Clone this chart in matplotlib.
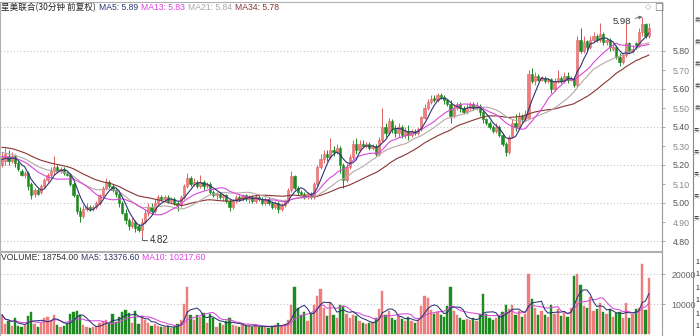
import matplotlib
matplotlib.use("Agg")
import matplotlib.pyplot as plt
import numpy as np
import pandas as pd

plt.rcParams['font.family'] = ['Liberation Sans', 'Noto Sans CJK SC', 'DejaVu Sans']

# 30分钟K线 (开, 高, 低, 收)
opens = [
    5.20, 5.22, 5.25, 5.22, 5.25, 5.21, 5.17, 5.15, 5.16, 5.10,
    5.05, 5.07, 5.06, 5.09, 5.12, 5.15, 5.17, 5.19, 5.17, 5.18,
    5.16, 5.15, 5.10, 5.04, 4.96, 4.93, 4.97, 4.98, 4.97, 4.98,
    5.00, 5.04, 5.08, 5.11, 5.09, 5.07, 5.05, 5.00, 4.95, 4.91,
    4.88, 4.90, 4.88, 4.86, 4.90, 4.95, 4.98, 4.96, 5.00, 5.03,
    5.02, 5.03, 5.01, 5.02, 5.00, 4.99, 5.03, 5.09, 5.13, 5.10,
    5.11, 5.09, 5.11, 5.09, 5.10, 5.06, 5.04, 5.05, 5.03, 5.04,
    5.01, 4.98, 5.01, 5.03, 5.02, 5.04, 5.02, 5.03, 5.01, 5.03,
    5.02, 5.00, 5.02, 5.00, 4.98, 5.00, 4.97, 4.99, 5.01, 5.07,
    5.14, 5.08, 5.06, 5.05, 5.03, 5.05, 5.03, 5.10, 5.19, 5.23,
    5.26, 5.24, 5.28, 5.27, 5.29, 5.20, 5.12, 5.19, 5.24, 5.31,
    5.28, 5.31, 5.30, 5.31, 5.29, 5.30, 5.26, 5.33, 5.40, 5.37,
    5.43, 5.39, 5.37, 5.40, 5.36, 5.38, 5.36, 5.38, 5.37, 5.39,
    5.45, 5.50, 5.53, 5.55, 5.54, 5.57, 5.56, 5.54, 5.52, 5.46,
    5.50, 5.52, 5.50, 5.48, 5.50, 5.52, 5.50, 5.51, 5.48, 5.44,
    5.42, 5.40, 5.38, 5.40, 5.36, 5.31, 5.27, 5.35, 5.42, 5.40,
    5.46, 5.44, 5.45, 5.68, 5.64, 5.67, 5.65, 5.66, 5.64, 5.65,
    5.60, 5.64, 5.66, 5.64, 5.67, 5.65, 5.66, 5.62, 5.86, 5.80,
    5.85, 5.82, 5.86, 5.88, 5.86, 5.89, 5.85, 5.86, 5.81, 5.82,
    5.77, 5.74, 5.78, 5.84, 5.80, 5.84, 5.83, 5.90, 5.94, 5.88,
]
highs = [
    5.27, 5.29, 5.28, 5.27, 5.26, 5.22, 5.18, 5.17, 5.17, 5.11,
    5.08, 5.08, 5.10, 5.13, 5.16, 5.19, 5.25, 5.20, 5.19, 5.19,
    5.17, 5.16, 5.11, 5.05, 4.98, 4.99, 5.00, 4.99, 4.99, 5.01,
    5.05, 5.09, 5.13, 5.12, 5.10, 5.08, 5.06, 5.01, 4.97, 4.92,
    4.92, 4.91, 4.89, 4.92, 4.97, 5.00, 5.00, 5.02, 5.04, 5.04,
    5.04, 5.04, 5.03, 5.03, 5.01, 5.04, 5.10, 5.16, 5.14, 5.13,
    5.12, 5.15, 5.12, 5.11, 5.11, 5.07, 5.06, 5.06, 5.05, 5.05,
    5.02, 5.02, 5.04, 5.04, 5.05, 5.05, 5.04, 5.04, 5.05, 5.04,
    5.03, 5.03, 5.03, 5.01, 5.01, 5.01, 5.00, 5.02, 5.08, 5.17,
    5.15, 5.09, 5.07, 5.06, 5.06, 5.06, 5.11, 5.20, 5.26, 5.28,
    5.28, 5.34, 5.30, 5.31, 5.30, 5.21, 5.21, 5.26, 5.33, 5.34,
    5.33, 5.33, 5.32, 5.32, 5.31, 5.31, 5.35, 5.50, 5.42, 5.45,
    5.44, 5.41, 5.42, 5.41, 5.40, 5.41, 5.39, 5.39, 5.40, 5.46,
    5.52, 5.55, 5.57, 5.57, 5.58, 5.58, 5.57, 5.55, 5.54, 5.52,
    5.53, 5.53, 5.51, 5.52, 5.53, 5.53, 5.53, 5.52, 5.49, 5.45,
    5.43, 5.41, 5.42, 5.41, 5.37, 5.32, 5.36, 5.44, 5.47, 5.48,
    5.47, 5.49, 5.70, 5.71, 5.69, 5.68, 5.67, 5.67, 5.66, 5.66,
    5.66, 5.70, 5.67, 5.69, 5.69, 5.67, 5.67, 5.88, 5.92, 5.88,
    5.86, 5.88, 5.90, 5.89, 5.95, 5.90, 5.87, 5.87, 5.84, 5.83,
    5.79, 5.79, 5.95, 5.85, 5.83, 5.85, 5.92, 5.98, 5.95, 5.95,
]
lows = [
    5.19, 5.20, 5.20, 5.21, 5.19, 5.17, 5.14, 5.13, 5.07, 5.02,
    5.03, 5.04, 5.05, 5.08, 5.11, 5.13, 5.15, 5.16, 5.16, 5.15,
    5.14, 5.09, 5.03, 4.94, 4.90, 4.92, 4.96, 4.96, 4.96, 4.97,
    4.99, 5.03, 5.07, 5.08, 5.06, 5.03, 4.98, 4.94, 4.89, 4.86,
    4.87, 4.85, 4.85, 4.82, 4.89, 4.93, 4.95, 4.95, 4.99, 5.01,
    5.01, 5.00, 5.00, 4.99, 4.96, 4.98, 5.02, 5.08, 5.09, 5.09,
    5.08, 5.08, 5.07, 5.08, 5.05, 5.03, 5.02, 5.02, 5.01, 5.00,
    4.96, 4.97, 5.00, 5.01, 5.01, 5.01, 5.00, 5.00, 5.00, 5.01,
    4.99, 4.99, 4.99, 4.97, 4.97, 4.95, 4.96, 4.98, 5.00, 5.06,
    5.07, 5.04, 5.04, 5.02, 5.02, 5.02, 5.02, 5.09, 5.18, 5.21,
    5.22, 5.23, 5.25, 5.26, 5.16, 5.08, 5.11, 5.18, 5.23, 5.26,
    5.27, 5.29, 5.29, 5.28, 5.28, 5.25, 5.25, 5.32, 5.35, 5.36,
    5.37, 5.35, 5.35, 5.34, 5.34, 5.33, 5.35, 5.36, 5.36, 5.38,
    5.44, 5.49, 5.52, 5.53, 5.53, 5.55, 5.52, 5.51, 5.42, 5.45,
    5.49, 5.48, 5.47, 5.47, 5.49, 5.49, 5.49, 5.46, 5.42, 5.41,
    5.39, 5.37, 5.37, 5.35, 5.30, 5.25, 5.26, 5.34, 5.38, 5.39,
    5.42, 5.43, 5.44, 5.63, 5.62, 5.64, 5.64, 5.63, 5.63, 5.58,
    5.59, 5.63, 5.63, 5.63, 5.63, 5.64, 5.61, 5.61, 5.79, 5.79,
    5.80, 5.81, 5.85, 5.85, 5.85, 5.83, 5.83, 5.80, 5.80, 5.76,
    5.72, 5.73, 5.77, 5.79, 5.79, 5.81, 5.82, 5.88, 5.87, 5.87,
]
closes = [
    5.24, 5.26, 5.22, 5.25, 5.21, 5.18, 5.15, 5.16, 5.09, 5.04,
    5.07, 5.05, 5.09, 5.12, 5.15, 5.17, 5.19, 5.17, 5.18, 5.16,
    5.15, 5.10, 5.04, 4.96, 4.93, 4.97, 4.98, 4.97, 4.98, 5.00,
    5.04, 5.08, 5.11, 5.09, 5.07, 5.05, 5.00, 4.95, 4.91, 4.88,
    4.90, 4.87, 4.86, 4.90, 4.95, 4.98, 4.96, 5.00, 5.03, 5.02,
    5.03, 5.01, 5.02, 5.00, 4.99, 5.03, 5.09, 5.13, 5.10, 5.11,
    5.09, 5.11, 5.09, 5.10, 5.06, 5.04, 5.05, 5.03, 5.04, 5.01,
    4.98, 5.01, 5.03, 5.02, 5.04, 5.02, 5.03, 5.01, 5.03, 5.02,
    5.00, 5.02, 5.00, 4.98, 5.00, 4.97, 4.99, 5.01, 5.07, 5.14,
    5.08, 5.06, 5.05, 5.03, 5.05, 5.03, 5.10, 5.19, 5.23, 5.26,
    5.24, 5.28, 5.27, 5.29, 5.20, 5.12, 5.19, 5.24, 5.31, 5.28,
    5.31, 5.30, 5.31, 5.29, 5.30, 5.26, 5.33, 5.40, 5.37, 5.43,
    5.39, 5.37, 5.40, 5.36, 5.38, 5.36, 5.38, 5.37, 5.39, 5.45,
    5.50, 5.53, 5.55, 5.54, 5.57, 5.56, 5.54, 5.52, 5.46, 5.50,
    5.52, 5.50, 5.48, 5.50, 5.52, 5.50, 5.51, 5.48, 5.44, 5.42,
    5.40, 5.38, 5.40, 5.36, 5.31, 5.27, 5.35, 5.42, 5.40, 5.46,
    5.44, 5.47, 5.68, 5.64, 5.67, 5.65, 5.66, 5.64, 5.65, 5.60,
    5.64, 5.66, 5.64, 5.67, 5.65, 5.66, 5.62, 5.86, 5.80, 5.85,
    5.82, 5.86, 5.88, 5.86, 5.89, 5.85, 5.86, 5.82, 5.82, 5.77,
    5.74, 5.78, 5.84, 5.80, 5.81, 5.83, 5.90, 5.94, 5.88, 5.92,
]
# 图表左侧之前的收盘价 (均线预热用)
prior_closes = [
    5.30, 5.32, 5.34, 5.36, 5.38, 5.37, 5.35, 5.36, 5.34, 5.33, 5.31,
    5.32, 5.30, 5.31, 5.33, 5.32, 5.30, 5.29, 5.30, 5.28, 5.27, 5.26,
    5.28, 5.27, 5.25, 5.24, 5.26, 5.25, 5.23, 5.22, 5.24, 5.23, 5.21,
]
volumes = [
    6400, 3500, 4200, 2800, 5200, 2600, 2200, 3000, 6000, 7500,
    3200, 2500, 3600, 5200, 5800, 4500, 6200, 3000, 2400, 2600,
    3400, 6800, 7200, 7800, 6500, 3000, 2200, 2000, 2400, 2800,
    3600, 4200, 4800, 3200, 6800, 4000, 5600, 7400, 8000, 7000,
    3800, 7600, 3400, 6000, 4600, 3800, 2600, 3200, 2800, 2400,
    2200, 2600, 2000, 2400, 3400, 4800, 10000, 15800, 6400, 4800,
    6200, 5600, 7000, 3600, 6800, 5200, 2400, 3800, 3000, 4200,
    5400, 3000, 2600, 2400, 3200, 2600, 2800, 2200, 3000, 2400,
    2600, 2400, 2000, 2800, 3000, 3600, 2600, 3400, 4600, 9800,
    15800, 8600, 6400, 7200, 4400, 6800, 9800, 12800, 15000, 8800,
    6000, 10200, 6400, 5200, 9800, 9200, 6800, 5200, 6400, 6000,
    4400, 3800, 3200, 3600, 4000, 5400, 8200, 14200, 6200, 7600,
    5400, 4800, 6000, 5000, 4400, 5600, 4200, 3800, 4600, 9200,
    12600, 12000, 8000, 6800, 7200, 6200, 5800, 9400, 15600, 7800,
    6200, 5400, 4800, 5000, 4600, 5200, 4400, 6800, 13200, 6800,
    5400, 4800, 5200, 6000, 7400, 9600, 8200, 9800, 6400, 7600,
    5600, 6800, 20000, 11600, 8800, 6400, 7800, 6200, 5600, 9600,
    6800, 8400, 6000, 7000, 5600, 8800, 19400, 20000, 16200, 9200,
    8600, 12200, 7600, 8200, 10400, 7400, 6600, 8400, 5800, 7000,
    7400, 5293, 10400, 5400, 6800, 8200, 8529, 23400, 8000, 18754,
]
price_ticks = [5.80, 5.70, 5.60, 5.50, 5.40, 5.30, 5.20, 5.10, 5.00, 4.90, 4.80]
price_grid = [5.80, 5.60, 5.40, 5.20, 5.00, 4.80]
vol_ticks = [10000, 20000]

RED = '#ef7d7d'
RED_EDGE = '#e06060'
GREEN = '#1f8a1f'
MA_COLORS = {'MA5': '#2c3577', 'MA13': '#d948d9', 'MA21': '#b8a8a8', 'MA34': '#8a3434'}
CJK = ['Noto Sans CJK SC', 'DejaVu Sans']

W, H = 700, 336


def fx(px):
    return px / W


def fy(py):
    return 1 - py / H


o = np.array(opens)
h = np.array(highs)
l = np.array(lows)
c = np.array(closes)
v = np.array(volumes, dtype=float)
n = len(c)
x = np.arange(n)
up = c >= o

all_c = pd.Series(prior_closes + closes)
ma = {}
for name, p in [('MA5', 5), ('MA13', 13), ('MA21', 21), ('MA34', 34)]:
    ma[name] = all_c.rolling(p, min_periods=1).mean().values[len(prior_closes):]
vs = pd.Series(v)
vma5 = vs.rolling(5, min_periods=1).mean().values
vma10 = vs.rolling(10, min_periods=1).mean().values

fig = plt.figure(figsize=(7, 3.36), dpi=100)
fig.patch.set_facecolor('white')
renderer = fig.canvas.get_renderer()

# 像素 -> 数据
px0, px1 = 0, 662
step = 3.25
xlim = ((px0 - 2) / step, (px1 - 2) / step)


def price_at(py):
    return 5.80 - (py - 51) / 190


def text_row(x0, y, parts, gap=3, **kw):
    """一行多色文字, 依次排开"""
    cur = x0
    for s, col, fam in parts:
        t = fig.text(fx(cur), y, s, color=col, va='center', family=fam, **kw)
        bb = t.get_window_extent(renderer)
        cur += bb.width + gap


ax = fig.add_axes([fx(px0), fy(251), fx(px1 - px0), (251 - 2) / H])
ax.set_xlim(*xlim)
ax.set_ylim(price_at(251), price_at(2))

for g in price_grid:
    ax.axhline(g, color='#c4c4c4', lw=0.8, ls=(0, (1, 2)), zorder=0)

# 影线
ax.vlines(x[up], l[up], h[up], color=RED_EDGE, lw=0.7, zorder=2)
ax.vlines(x[~up], l[~up], h[~up], color=GREEN, lw=0.7, zorder=2)
# 实体
bw = 0.62
body = np.maximum(np.abs(c - o), 0.004)
bottom = np.minimum(o, c)
ax.bar(x[up], body[up], bw, bottom=bottom[up], color=RED, edgecolor=RED_EDGE, lw=0.4, zorder=3)
ax.bar(x[~up], body[~up], bw, bottom=bottom[~up], color=GREEN, edgecolor=GREEN, lw=0.4, zorder=3)

for name in ['MA34', 'MA21', 'MA13', 'MA5']:
    ax.plot(x, ma[name], color=MA_COLORS[name], lw=0.8, zorder=4)

ax.yaxis.tick_right()
ax.set_yticks(price_ticks)
ax.set_yticklabels([f'{t:.2f}' for t in price_ticks])
for lab, t in zip(ax.get_yticklabels(), price_ticks):
    lab.set_color('#555555' if round(t * 10) % 2 == 0 else '#8a8a8a')
ax.tick_params(axis='y', length=2, width=0.6, color='#999999', labelsize=6.3, pad=6)
ax.set_xticks([])
for s in ['top', 'bottom', 'left']:
    ax.spines[s].set_color('#b0b0b0')
    ax.spines[s].set_linewidth(0.8)
ax.spines['right'].set_color('#9a9a9a')
ax.spines['right'].set_linewidth(0.8)

# 最高 / 最低 标注
imax = int(np.argmax(h))
imin = int(np.argmin(l))
ax.annotate(f'{h[imax]:.2f}', xy=(imax, h[imax]), xytext=(187.8, price_at(21)),
            fontsize=6.8, color='#333333', va='center', ha='left',
            arrowprops=dict(arrowstyle='->', color='#555555', lw=0.6, shrinkA=1, shrinkB=0,
                            mutation_scale=5))
ax.annotate(f'{l[imin]:.2f}', xy=(imin, l[imin]), xytext=(45.4, price_at(240)),
            fontsize=7, color='#333333', va='center', ha='left',
            arrowprops=dict(arrowstyle='-', color='#444444', lw=0.6, shrinkA=0, shrinkB=0,
                            connectionstyle='angle,angleA=0,angleB=90,rad=0'))

# 标题
text_row(1, fy(8), [
    ('星美联合(30分钟 前复权)', '#222222', CJK),
    (f'MA5: {ma["MA5"][-1]:.2f}', MA_COLORS['MA5'], 'Liberation Sans'),
    (f'MA13: {ma["MA13"][-1]:.2f}', '#e040e0', 'Liberation Sans'),
    (f'MA21: {ma["MA21"][-1]:.2f}', '#a8a8a8', 'Liberation Sans'),
    (f'MA34: {ma["MA34"][-1]:.2f}', '#8a3434', 'Liberation Sans'),
], gap=3, fontsize=6.2)

# 右上角小图标
fig.text(fx(645), fy(7), '◇', fontsize=6, color='#999999', va='center', family='DejaVu Sans')
fig.text(fx(654), fy(7), '□', fontsize=7, color='#777777', va='center', family='DejaVu Sans')

# 成交量
vax = fig.add_axes([fx(px0), 0, fx(px1 - px0), (336 - 252) / H])
vax.set_xlim(*xlim)
vax.set_ylim(-2 / 30 * 10000, (334 - 252) / 30 * 10000)
for g in vol_ticks:
    vax.axhline(g, color='#c4c4c4', lw=0.8, ls=(0, (1, 2)), zorder=0)
vax.bar(x[up], v[up], bw, color=RED, edgecolor=RED, lw=0.3, zorder=2)
vax.bar(x[~up], v[~up], bw, color=GREEN, edgecolor=GREEN, lw=0.3, zorder=2)
vax.plot(x, vma10, color='#d948d9', lw=0.75, zorder=3)
vax.plot(x, vma5, color='#2c3577', lw=0.75, zorder=3)
vax.yaxis.tick_right()
vax.set_yticks(vol_ticks)
vax.set_yticklabels([str(t) for t in vol_ticks])
vax.tick_params(axis='y', length=2, width=0.6, color='#999999', labelsize=6.3, pad=5,
                labelcolor='#666666')
vax.set_xticks([])
for s in ['top', 'bottom', 'left']:
    vax.spines[s].set_color('#b0b0b0')
    vax.spines[s].set_linewidth(0.8)
vax.spines['right'].set_color('#9a9a9a')
vax.spines['right'].set_linewidth(0.8)

text_row(1, fy(258), [
    (f'VOLUME: {v[-1]:.2f}', '#333333', 'Liberation Sans'),
    (f'MA5: {vma5[-1]:.2f}', '#333366', 'Liberation Sans'),
    (f'MA10: {vma10[-1]:.2f}', '#e040e0', 'Liberation Sans'),
], gap=3, fontsize=6.2)

# 右侧的盘口栏 (原图被截断, 这里缩小字号)
fig.add_artist(plt.Line2D([fx(693), fx(693)], [0, 1], color='#888888', lw=0.8))
side = '卖卖卖卖卖买买买买买'
for k, ch in enumerate(side):
    fig.text(fx(694.2), fy(20 + k * 22), ch, fontsize=4, color='#444444', va='center',
             family=CJK)
for k in range(6):
    fig.text(fx(695), fy(262 + k * 13), '1', fontsize=5, color='#222222', va='center')

fig.savefig('out.png', dpi=100, facecolor='white')
